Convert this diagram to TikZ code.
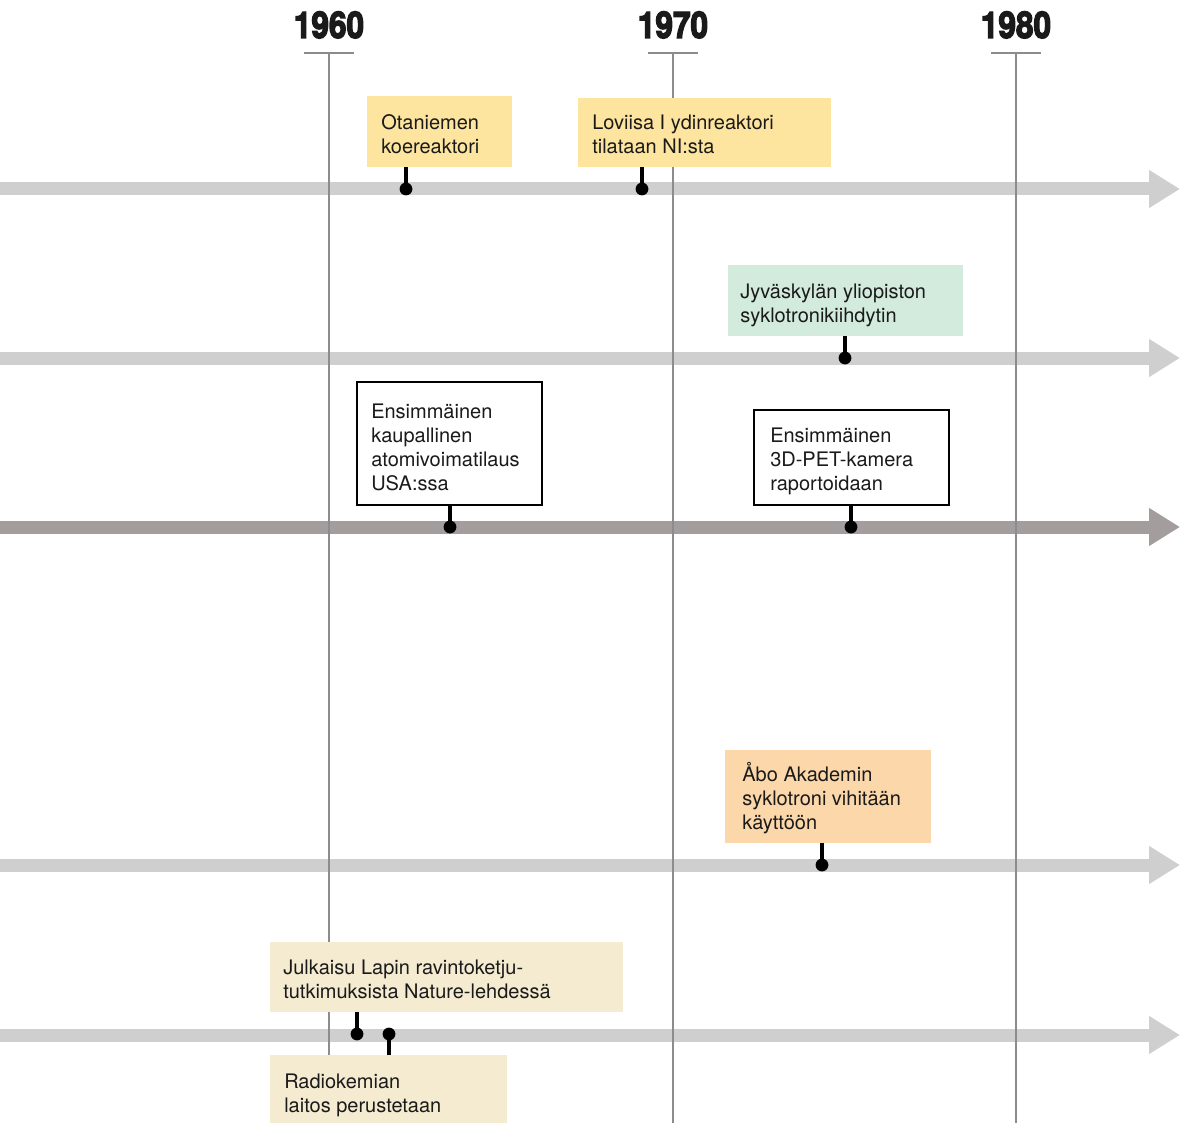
\documentclass[tikz,border=0pt]{standalone}
\usepackage{fontspec}
\setmainfont{TeX Gyre Heros}
\newfontfamily\yearfont{TeX Gyre Heros}[BoldFeatures={FakeBold=4}]
\usetikzlibrary{arrows.meta,fit}
\definecolor{trackgrey}{HTML}{CFCFCF}
\definecolor{trackdark}{HTML}{A39D9E}
\definecolor{yeargrey}{HTML}{8C8C8C}
\definecolor{yel}{HTML}{FDE59F}
\definecolor{grn}{HTML}{D3EBDD}
\definecolor{org}{HTML}{FBD7A9}
\definecolor{beige}{HTML}{F4EBD1}
\definecolor{ink}{HTML}{1A1A1A}
\begin{document}
\begin{tikzpicture}[x=0.75pt,y=-0.75pt,
  track/.style={line width=9.75pt, draw=trackgrey, -{Triangle[length=23.25pt,width=27pt]}},
  trackd/.style={track, draw=trackdark},
  yearline/.style={draw=yeargrey, line width=1.5pt},
  yearlabel/.style={anchor=base, inner sep=0, text=ink, font=\yearfont\fontsize{27.5}{30}\selectfont\bfseries},
  evbox/.style={inner sep=0, outer sep=0},
  plainbox/.style={evbox, fill=white, draw=black, line width=0.9pt},
  txt/.style={anchor=base west, inner sep=0, text=ink, font=\fontsize{15}{18}\selectfont},
  stem/.style={draw=black, line width=2.6pt},
  dot/.style={circle, fill=black, inner sep=0, minimum size=9.6pt}
]
\useasboundingbox (0,0) rectangle (1185,1123);

% tracks
\foreach \n/\y in {1/189,2/358,4/865,5/1035}{
  \coordinate (ts\n) at (0,\y);
  \coordinate (te\n) at (1180,\y);
  \draw[track] (ts\n) -- (te\n);
}
\coordinate (ts3) at (0,527);
\coordinate (te3) at (1180,527);
\draw[trackd] (ts3) -- (te3);

% year lines
\foreach \n/\x/\lab in {a/329/1960,b/673/1970,c/1016/1980}{
  \coordinate (yt\n) at (\x,53);
  \coordinate (yb\n) at (\x,1123);
  \coordinate (yl\n) at (\x-25,53);
  \coordinate (yr\n) at (\x+25,53);
  \draw[yearline] (yt\n) -- (yb\n);
  \draw[yearline] (yl\n) -- (yr\n);
  \node[yearlabel] (year\n) at (\x,38) {\scalebox{0.86}[1]{\lab}};
}

% boxes
\node[evbox, fill=yel, fit={(367,96) (512,167)}] (b1) {};
\node[evbox, fill=yel, fit={(578,98) (831,167)}] (b2) {};
\node[evbox, fill=grn, fit={(728,265) (963,336)}] (b3) {};
\node[plainbox, fit={(357,382) (542,505)}] (b4) {};
\node[plainbox, fit={(754,410) (949,505)}] (b5) {};
\node[evbox, fill=org, fit={(725,750) (931,843)}] (b6) {};
\node[evbox, fill=beige, fit={(270,942) (623,1012)}] (b7) {};
\node[evbox, fill=beige, fit={(270,1055) (507,1123)}] (b8) {};

% texts
\node[txt] (t1) at (381,130) {\begin{tabular}[t]{@{}l@{}}Otaniemen\\koereaktori\end{tabular}};
\node[txt] (t2) at (592,130) {\begin{tabular}[t]{@{}l@{}}Loviisa I ydinreaktori\\tilataan NI:sta\end{tabular}};
\node[txt] (t3) at (740,299) {\begin{tabular}[t]{@{}l@{}}Jyväskylän yliopiston\\syklotronikiihdytin\end{tabular}};
\node[txt] (t4) at (371,418) {\begin{tabular}[t]{@{}l@{}}Ensimmäinen\\kaupallinen\\atomivoimatilaus\\USA:ssa\end{tabular}};
\node[txt] (t5) at (770,442) {\begin{tabular}[t]{@{}l@{}}Ensimmäinen\\3D-PET-kamera\\raportoidaan\end{tabular}};
\node[txt] (t6) at (742,781) {\begin{tabular}[t]{@{}l@{}}Åbo Akademin\\syklotroni vihitään\\käyttöön\end{tabular}};
\node[txt] (t7) at (283,974) {\begin{tabular}[t]{@{}l@{}}Julkaisu Lapin ravintoketju-\\tutkimuksista Nature-lehdessä\end{tabular}};
\node[txt] (t8) at (284,1088) {\begin{tabular}[t]{@{}l@{}}Radiokemian\\laitos perustetaan\end{tabular}};

% stems and dots
\foreach \n/\x/\y/\b/\side in {1/406/189/b1/south,2/642/189/b2/south,3/845/358/b3/south,4/450/527/b4/south,5/851/527/b5/south,6/822/865/b6/south,7/357/1034/b7/south,8/389/1034/b8/north}{
  \coordinate (d\n) at (\x,\y);
  \draw[stem] (\b.\side -| d\n) -- (d\n);
  \node[dot] (dot\n) at (d\n) {};
}
\end{tikzpicture}
\end{document}
